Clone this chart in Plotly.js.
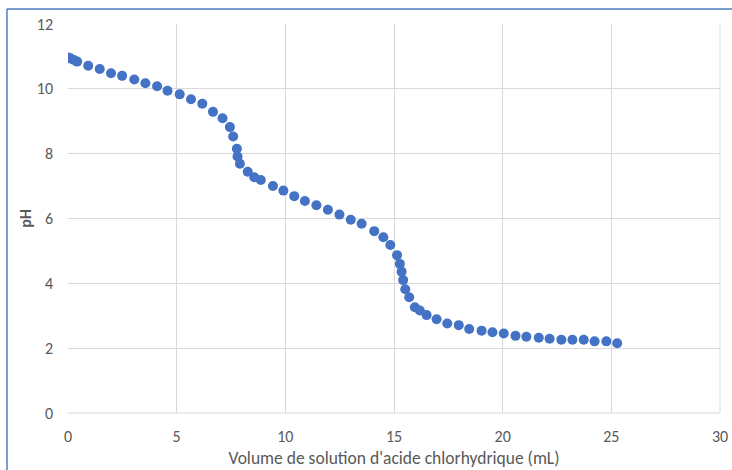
<!DOCTYPE html>
<html>
<head>
<meta charset="utf-8">
<script src="https://cdn.plot.ly/plotly-3.0.1.min.js"></script>
<style>
html,body{margin:0;padding:0;background:#fff;}
#chart{width:732px;height:470px;}
</style>
</head>
<body>
<div id="chart"></div>
<script>
var volume = [0, 0.11, 0.27, 0.42, 0.93, 1.46, 1.98, 2.49, 3.05, 3.56, 4.10, 4.58, 5.14, 5.66, 6.18, 6.67, 7.11, 7.45, 7.60, 7.77, 7.80, 7.91, 8.27, 8.57, 8.87, 9.43, 9.91, 10.41, 10.90, 11.43, 11.96, 12.49, 13.01, 13.51, 14.09, 14.51, 14.83, 15.14, 15.27, 15.35, 15.42, 15.52, 15.70, 15.96, 16.19, 16.50, 16.96, 17.45, 17.98, 18.46, 19.03, 19.53, 20.05, 20.59, 21.09, 21.66, 22.16, 22.70, 23.21, 23.73, 24.23, 24.77, 25.27];
var pH = [10.97, 10.94, 10.89, 10.84, 10.71, 10.61, 10.48, 10.40, 10.29, 10.17, 10.08, 9.94, 9.83, 9.68, 9.54, 9.29, 9.09, 8.82, 8.53, 8.15, 7.91, 7.69, 7.44, 7.27, 7.19, 7.00, 6.86, 6.69, 6.54, 6.41, 6.27, 6.12, 5.96, 5.84, 5.61, 5.42, 5.18, 4.87, 4.60, 4.36, 4.10, 3.82, 3.57, 3.26, 3.16, 3.02, 2.89, 2.76, 2.71, 2.59, 2.54, 2.49, 2.45, 2.38, 2.35, 2.32, 2.29, 2.26, 2.26, 2.26, 2.21, 2.21, 2.15];
var xTicks = [0, 5, 10, 15, 20, 25, 30];
var yTicks = [0, 2, 4, 6, 8, 10, 12];
var xTitle = "Volume de solution d'acide chlorhydrique (mL)";
var yTitle = "pH";

var font = "Calibri, Carlito, 'Liberation Sans', Arial, sans-serif";
var trace = {
  x: volume, y: pH, type: 'scatter', mode: 'markers',
  marker: {color: '#4472C4', size: 10, line: {width: 0}},
  hoverinfo: 'x+y'
};
var layout = {
  width: 732, height: 470,
  margin: {l: 68, r: 12, t: 24, b: 57},
  paper_bgcolor: '#ffffff', plot_bgcolor: '#ffffff',
  showlegend: false,
  font: {family: font, color: '#595959', size: 16},
  xaxis: {
    range: [0, 30], tickvals: xTicks, ticktext: xTicks.map(String),
    showgrid: true, gridcolor: '#d9d9d9', gridwidth: 1,
    zeroline: false, showline: false, ticks: '', ticklen: 0,
    ticklabelstandoff: 12,
    tickfont: {size: 16, color: '#595959', family: font},
    title: {text: xTitle, font: {size: 17.5, color: '#595959', family: font}, standoff: 6}
  },
  yaxis: {
    range: [0, 12], tickvals: yTicks, ticktext: yTicks.map(String),
    showgrid: true, gridcolor: '#d9d9d9', gridwidth: 1,
    zeroline: false, showline: false, ticks: '', ticklen: 0,
    ticklabelstandoff: 14,
    tickfont: {size: 16, color: '#595959', family: font},
    title: {text: '<b>' + yTitle + '</b>', font: {size: 16, color: '#595959', family: font}, standoff: 1}
  },
  shapes: [
    {type: 'line', xref: 'paper', yref: 'paper', x0: 1, x1: 1, y0: 0, y1: 1, line: {color: '#d9d9d9', width: 1}},
    {type: 'line', xref: 'paper', yref: 'paper', x0: 0, x1: 1, y0: 0, y1: 0, line: {color: '#d9d9d9', width: 1}},
    {type: 'line', xref: 'paper', yref: 'paper', x0: -0.0936, x1: 1.1, y0: 1.0386, y1: 1.0386, line: {color: '#4a7ebb', width: 1.5}},
    {type: 'line', xref: 'paper', yref: 'paper', x0: -0.0936, x1: -0.0936, y0: -0.3, y1: 1.0386, line: {color: '#4a7ebb', width: 1.5}}
  ]
};
Plotly.newPlot('chart', [trace], layout, {displayModeBar: false, staticPlot: true});
</script>
</body>
</html>
